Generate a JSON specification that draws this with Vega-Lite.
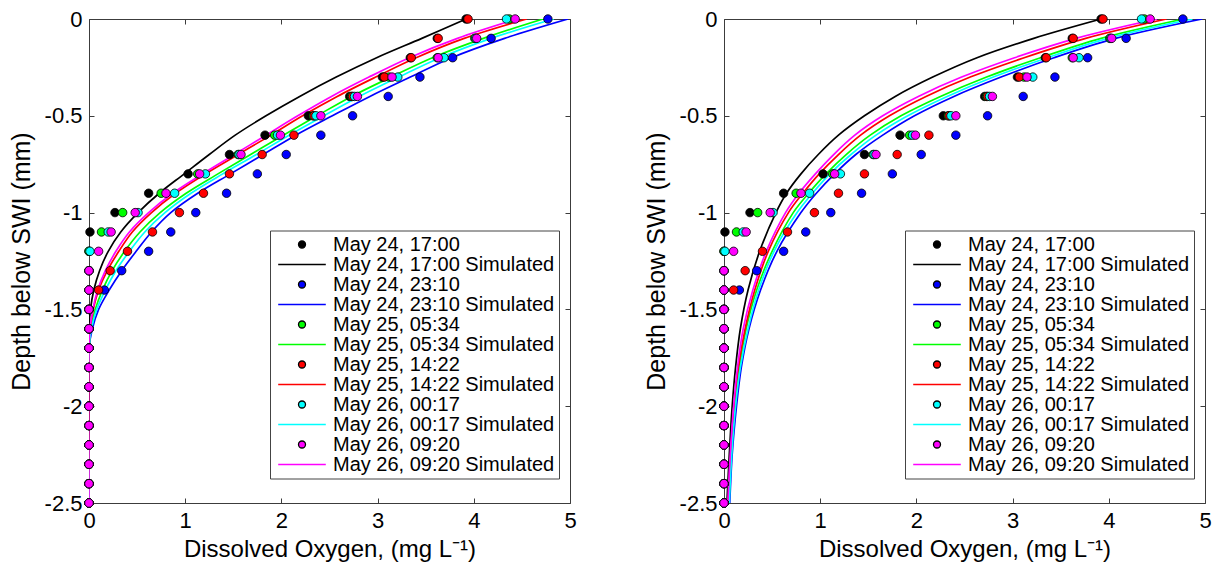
{
"$schema":"https://vega.github.io/schema/vega-lite/v6.json",
"background":"white",
"padding":{"left":9,"top":8,"right":5,"bottom":5},
"autosize":{"type":"pad"},
"datasets":{
"obs":[
{"label":"May 24, 17:00","depth":0,"DO":3.92},{"label":"May 24, 17:00","depth":-0.1,"DO":3.62},{"label":"May 24, 17:00","depth":-0.2,"DO":3.34},{"label":"May 24, 17:00","depth":-0.3,"DO":3.05},{"label":"May 24, 17:00","depth":-0.4,"DO":2.71},{"label":"May 24, 17:00","depth":-0.5,"DO":2.28},{"label":"May 24, 17:00","depth":-0.6,"DO":1.83},{"label":"May 24, 17:00","depth":-0.7,"DO":1.46},{"label":"May 24, 17:00","depth":-0.8,"DO":1.03},{"label":"May 24, 17:00","depth":-0.9,"DO":0.62},{"label":"May 24, 17:00","depth":-1.0,"DO":0.27},{"label":"May 24, 17:00","depth":-1.1,"DO":0.01},{"label":"May 24, 17:00","depth":-1.2,"DO":0},{"label":"May 24, 17:00","depth":-1.3,"DO":0},{"label":"May 24, 17:00","depth":-1.4,"DO":0},{"label":"May 24, 17:00","depth":-1.5,"DO":0},{"label":"May 24, 17:00","depth":-1.6,"DO":0},{"label":"May 24, 17:00","depth":-1.7,"DO":0},{"label":"May 24, 17:00","depth":-1.8,"DO":0},{"label":"May 24, 17:00","depth":-1.9,"DO":0},{"label":"May 24, 17:00","depth":-2.0,"DO":0},{"label":"May 24, 17:00","depth":-2.1,"DO":0},{"label":"May 24, 17:00","depth":-2.2,"DO":0},{"label":"May 24, 17:00","depth":-2.3,"DO":0},{"label":"May 24, 17:00","depth":-2.4,"DO":0},{"label":"May 24, 17:00","depth":-2.5,"DO":0},
{"label":"May 24, 23:10","depth":0,"DO":4.77},{"label":"May 24, 23:10","depth":-0.1,"DO":4.18},{"label":"May 24, 23:10","depth":-0.2,"DO":3.78},{"label":"May 24, 23:10","depth":-0.3,"DO":3.44},{"label":"May 24, 23:10","depth":-0.4,"DO":3.11},{"label":"May 24, 23:10","depth":-0.5,"DO":2.74},{"label":"May 24, 23:10","depth":-0.6,"DO":2.41},{"label":"May 24, 23:10","depth":-0.7,"DO":2.05},{"label":"May 24, 23:10","depth":-0.8,"DO":1.75},{"label":"May 24, 23:10","depth":-0.9,"DO":1.43},{"label":"May 24, 23:10","depth":-1.0,"DO":1.11},{"label":"May 24, 23:10","depth":-1.1,"DO":0.85},{"label":"May 24, 23:10","depth":-1.2,"DO":0.62},{"label":"May 24, 23:10","depth":-1.3,"DO":0.34},{"label":"May 24, 23:10","depth":-1.4,"DO":0.16},{"label":"May 24, 23:10","depth":-1.5,"DO":0},{"label":"May 24, 23:10","depth":-1.6,"DO":0},{"label":"May 24, 23:10","depth":-1.7,"DO":0},{"label":"May 24, 23:10","depth":-1.8,"DO":0},{"label":"May 24, 23:10","depth":-1.9,"DO":0},{"label":"May 24, 23:10","depth":-2.0,"DO":0},{"label":"May 24, 23:10","depth":-2.1,"DO":0},{"label":"May 24, 23:10","depth":-2.2,"DO":0},{"label":"May 24, 23:10","depth":-2.3,"DO":0},{"label":"May 24, 23:10","depth":-2.4,"DO":0},{"label":"May 24, 23:10","depth":-2.5,"DO":0},
{"label":"May 25, 05:34","depth":0,"DO":4.37},{"label":"May 25, 05:34","depth":-0.1,"DO":4.01},{"label":"May 25, 05:34","depth":-0.2,"DO":3.62},{"label":"May 25, 05:34","depth":-0.3,"DO":3.12},{"label":"May 25, 05:34","depth":-0.4,"DO":2.73},{"label":"May 25, 05:34","depth":-0.5,"DO":2.33},{"label":"May 25, 05:34","depth":-0.6,"DO":1.93},{"label":"May 25, 05:34","depth":-0.7,"DO":1.55},{"label":"May 25, 05:34","depth":-0.8,"DO":1.13},{"label":"May 25, 05:34","depth":-0.9,"DO":0.75},{"label":"May 25, 05:34","depth":-1.0,"DO":0.35},{"label":"May 25, 05:34","depth":-1.1,"DO":0.13},{"label":"May 25, 05:34","depth":-1.2,"DO":0},{"label":"May 25, 05:34","depth":-1.3,"DO":0},{"label":"May 25, 05:34","depth":-1.4,"DO":0},{"label":"May 25, 05:34","depth":-1.5,"DO":0},{"label":"May 25, 05:34","depth":-1.6,"DO":0},{"label":"May 25, 05:34","depth":-1.7,"DO":0},{"label":"May 25, 05:34","depth":-1.8,"DO":0},{"label":"May 25, 05:34","depth":-1.9,"DO":0},{"label":"May 25, 05:34","depth":-2.0,"DO":0},{"label":"May 25, 05:34","depth":-2.1,"DO":0},{"label":"May 25, 05:34","depth":-2.2,"DO":0},{"label":"May 25, 05:34","depth":-2.3,"DO":0},{"label":"May 25, 05:34","depth":-2.4,"DO":0},{"label":"May 25, 05:34","depth":-2.5,"DO":0},
{"label":"May 25, 14:22","depth":0,"DO":3.94},{"label":"May 25, 14:22","depth":-0.1,"DO":3.63},{"label":"May 25, 14:22","depth":-0.2,"DO":3.35},{"label":"May 25, 14:22","depth":-0.3,"DO":3.07},{"label":"May 25, 14:22","depth":-0.4,"DO":2.74},{"label":"May 25, 14:22","depth":-0.5,"DO":2.34},{"label":"May 25, 14:22","depth":-0.6,"DO":2.13},{"label":"May 25, 14:22","depth":-0.7,"DO":1.80},{"label":"May 25, 14:22","depth":-0.8,"DO":1.46},{"label":"May 25, 14:22","depth":-0.9,"DO":1.19},{"label":"May 25, 14:22","depth":-1.0,"DO":0.94},{"label":"May 25, 14:22","depth":-1.1,"DO":0.66},{"label":"May 25, 14:22","depth":-1.2,"DO":0.40},{"label":"May 25, 14:22","depth":-1.3,"DO":0.22},{"label":"May 25, 14:22","depth":-1.4,"DO":0.10},{"label":"May 25, 14:22","depth":-1.5,"DO":0},{"label":"May 25, 14:22","depth":-1.6,"DO":0},{"label":"May 25, 14:22","depth":-1.7,"DO":0},{"label":"May 25, 14:22","depth":-1.8,"DO":0},{"label":"May 25, 14:22","depth":-1.9,"DO":0},{"label":"May 25, 14:22","depth":-2.0,"DO":0},{"label":"May 25, 14:22","depth":-2.1,"DO":0},{"label":"May 25, 14:22","depth":-2.2,"DO":0},{"label":"May 25, 14:22","depth":-2.3,"DO":0},{"label":"May 25, 14:22","depth":-2.4,"DO":0},{"label":"May 25, 14:22","depth":-2.5,"DO":0},
{"label":"May 26, 00:17","depth":0,"DO":4.34},{"label":"May 26, 00:17","depth":-0.1,"DO":4.02},{"label":"May 26, 00:17","depth":-0.2,"DO":3.69},{"label":"May 26, 00:17","depth":-0.3,"DO":3.21},{"label":"May 26, 00:17","depth":-0.4,"DO":2.76},{"label":"May 26, 00:17","depth":-0.5,"DO":2.36},{"label":"May 26, 00:17","depth":-0.6,"DO":1.96},{"label":"May 26, 00:17","depth":-0.7,"DO":1.56},{"label":"May 26, 00:17","depth":-0.8,"DO":1.21},{"label":"May 26, 00:17","depth":-0.9,"DO":0.89},{"label":"May 26, 00:17","depth":-1.0,"DO":0.51},{"label":"May 26, 00:17","depth":-1.1,"DO":0.20},{"label":"May 26, 00:17","depth":-1.2,"DO":0.01},{"label":"May 26, 00:17","depth":-1.3,"DO":0},{"label":"May 26, 00:17","depth":-1.4,"DO":0},{"label":"May 26, 00:17","depth":-1.5,"DO":0},{"label":"May 26, 00:17","depth":-1.6,"DO":0},{"label":"May 26, 00:17","depth":-1.7,"DO":0},{"label":"May 26, 00:17","depth":-1.8,"DO":0},{"label":"May 26, 00:17","depth":-1.9,"DO":0},{"label":"May 26, 00:17","depth":-2.0,"DO":0},{"label":"May 26, 00:17","depth":-2.1,"DO":0},{"label":"May 26, 00:17","depth":-2.2,"DO":0},{"label":"May 26, 00:17","depth":-2.3,"DO":0},{"label":"May 26, 00:17","depth":-2.4,"DO":0},{"label":"May 26, 00:17","depth":-2.5,"DO":0},
{"label":"May 26, 09:20","depth":0,"DO":4.43},{"label":"May 26, 09:20","depth":-0.1,"DO":4.03},{"label":"May 26, 09:20","depth":-0.2,"DO":3.63},{"label":"May 26, 09:20","depth":-0.3,"DO":3.15},{"label":"May 26, 09:20","depth":-0.4,"DO":2.79},{"label":"May 26, 09:20","depth":-0.5,"DO":2.41},{"label":"May 26, 09:20","depth":-0.6,"DO":1.99},{"label":"May 26, 09:20","depth":-0.7,"DO":1.58},{"label":"May 26, 09:20","depth":-0.8,"DO":1.15},{"label":"May 26, 09:20","depth":-0.9,"DO":0.80},{"label":"May 26, 09:20","depth":-1.0,"DO":0.48},{"label":"May 26, 09:20","depth":-1.1,"DO":0.23},{"label":"May 26, 09:20","depth":-1.2,"DO":0.10},{"label":"May 26, 09:20","depth":-1.3,"DO":0},{"label":"May 26, 09:20","depth":-1.4,"DO":0},{"label":"May 26, 09:20","depth":-1.5,"DO":0},{"label":"May 26, 09:20","depth":-1.6,"DO":0},{"label":"May 26, 09:20","depth":-1.7,"DO":0},{"label":"May 26, 09:20","depth":-1.8,"DO":0},{"label":"May 26, 09:20","depth":-1.9,"DO":0},{"label":"May 26, 09:20","depth":-2.0,"DO":0},{"label":"May 26, 09:20","depth":-2.1,"DO":0},{"label":"May 26, 09:20","depth":-2.2,"DO":0},{"label":"May 26, 09:20","depth":-2.3,"DO":0},{"label":"May 26, 09:20","depth":-2.4,"DO":0},{"label":"May 26, 09:20","depth":-2.5,"DO":0}
],
"simL":[
{"label":"May 24, 17:00 Simulated","depth":0,"DO":3.92},{"label":"May 24, 17:00 Simulated","depth":-0.1,"DO":3.46},{"label":"May 24, 17:00 Simulated","depth":-0.2,"DO":2.99},{"label":"May 24, 17:00 Simulated","depth":-0.3,"DO":2.57},{"label":"May 24, 17:00 Simulated","depth":-0.4,"DO":2.19},{"label":"May 24, 17:00 Simulated","depth":-0.5,"DO":1.84},{"label":"May 24, 17:00 Simulated","depth":-0.6,"DO":1.52},{"label":"May 24, 17:00 Simulated","depth":-0.7,"DO":1.25},{"label":"May 24, 17:00 Simulated","depth":-0.8,"DO":0.99},{"label":"May 24, 17:00 Simulated","depth":-0.9,"DO":0.73},{"label":"May 24, 17:00 Simulated","depth":-1.0,"DO":0.51},{"label":"May 24, 17:00 Simulated","depth":-1.1,"DO":0.33},{"label":"May 24, 17:00 Simulated","depth":-1.2,"DO":0.20},{"label":"May 24, 17:00 Simulated","depth":-1.3,"DO":0.11},{"label":"May 24, 17:00 Simulated","depth":-1.4,"DO":0.05},{"label":"May 24, 17:00 Simulated","depth":-1.5,"DO":0.015},{"label":"May 24, 17:00 Simulated","depth":-1.6,"DO":0},{"label":"May 24, 17:00 Simulated","depth":-1.7,"DO":0},{"label":"May 24, 17:00 Simulated","depth":-2.5,"DO":0},
{"label":"May 24, 23:10 Simulated","depth":0,"DO":4.98},{"label":"May 24, 23:10 Simulated","depth":-0.1,"DO":4.32},{"label":"May 24, 23:10 Simulated","depth":-0.2,"DO":3.77},{"label":"May 24, 23:10 Simulated","depth":-0.3,"DO":3.34},{"label":"May 24, 23:10 Simulated","depth":-0.4,"DO":2.92},{"label":"May 24, 23:10 Simulated","depth":-0.5,"DO":2.53},{"label":"May 24, 23:10 Simulated","depth":-0.6,"DO":2.15},{"label":"May 24, 23:10 Simulated","depth":-0.7,"DO":1.81},{"label":"May 24, 23:10 Simulated","depth":-0.8,"DO":1.47},{"label":"May 24, 23:10 Simulated","depth":-0.9,"DO":1.13},{"label":"May 24, 23:10 Simulated","depth":-1.0,"DO":0.85},{"label":"May 24, 23:10 Simulated","depth":-1.1,"DO":0.65},{"label":"May 24, 23:10 Simulated","depth":-1.2,"DO":0.49},{"label":"May 24, 23:10 Simulated","depth":-1.3,"DO":0.34},{"label":"May 24, 23:10 Simulated","depth":-1.4,"DO":0.21},{"label":"May 24, 23:10 Simulated","depth":-1.5,"DO":0.10},{"label":"May 24, 23:10 Simulated","depth":-1.6,"DO":0.035},{"label":"May 24, 23:10 Simulated","depth":-1.7,"DO":0},{"label":"May 24, 23:10 Simulated","depth":-2.5,"DO":0},
{"label":"May 25, 05:34 Simulated","depth":0,"DO":4.72},{"label":"May 25, 05:34 Simulated","depth":-0.1,"DO":4.10},{"label":"May 25, 05:34 Simulated","depth":-0.2,"DO":3.57},{"label":"May 25, 05:34 Simulated","depth":-0.3,"DO":3.14},{"label":"May 25, 05:34 Simulated","depth":-0.4,"DO":2.73},{"label":"May 25, 05:34 Simulated","depth":-0.5,"DO":2.37},{"label":"May 25, 05:34 Simulated","depth":-0.6,"DO":2.02},{"label":"May 25, 05:34 Simulated","depth":-0.7,"DO":1.68},{"label":"May 25, 05:34 Simulated","depth":-0.8,"DO":1.34},{"label":"May 25, 05:34 Simulated","depth":-0.9,"DO":1.01},{"label":"May 25, 05:34 Simulated","depth":-1.0,"DO":0.74},{"label":"May 25, 05:34 Simulated","depth":-1.1,"DO":0.53},{"label":"May 25, 05:34 Simulated","depth":-1.2,"DO":0.37},{"label":"May 25, 05:34 Simulated","depth":-1.3,"DO":0.24},{"label":"May 25, 05:34 Simulated","depth":-1.4,"DO":0.14},{"label":"May 25, 05:34 Simulated","depth":-1.5,"DO":0.065},{"label":"May 25, 05:34 Simulated","depth":-1.6,"DO":0.02},{"label":"May 25, 05:34 Simulated","depth":-1.7,"DO":0},{"label":"May 25, 05:34 Simulated","depth":-2.5,"DO":0},
{"label":"May 25, 14:22 Simulated","depth":0,"DO":4.55},{"label":"May 25, 14:22 Simulated","depth":-0.1,"DO":3.90},{"label":"May 25, 14:22 Simulated","depth":-0.2,"DO":3.40},{"label":"May 25, 14:22 Simulated","depth":-0.3,"DO":2.98},{"label":"May 25, 14:22 Simulated","depth":-0.4,"DO":2.58},{"label":"May 25, 14:22 Simulated","depth":-0.5,"DO":2.22},{"label":"May 25, 14:22 Simulated","depth":-0.6,"DO":1.89},{"label":"May 25, 14:22 Simulated","depth":-0.7,"DO":1.55},{"label":"May 25, 14:22 Simulated","depth":-0.8,"DO":1.21},{"label":"May 25, 14:22 Simulated","depth":-0.9,"DO":0.90},{"label":"May 25, 14:22 Simulated","depth":-1.0,"DO":0.65},{"label":"May 25, 14:22 Simulated","depth":-1.1,"DO":0.45},{"label":"May 25, 14:22 Simulated","depth":-1.2,"DO":0.31},{"label":"May 25, 14:22 Simulated","depth":-1.3,"DO":0.19},{"label":"May 25, 14:22 Simulated","depth":-1.4,"DO":0.10},{"label":"May 25, 14:22 Simulated","depth":-1.5,"DO":0.045},{"label":"May 25, 14:22 Simulated","depth":-1.6,"DO":0.012},{"label":"May 25, 14:22 Simulated","depth":-1.7,"DO":0},{"label":"May 25, 14:22 Simulated","depth":-2.5,"DO":0},
{"label":"May 26, 00:17 Simulated","depth":0,"DO":4.83},{"label":"May 26, 00:17 Simulated","depth":-0.1,"DO":4.18},{"label":"May 26, 00:17 Simulated","depth":-0.2,"DO":3.65},{"label":"May 26, 00:17 Simulated","depth":-0.3,"DO":3.22},{"label":"May 26, 00:17 Simulated","depth":-0.4,"DO":2.81},{"label":"May 26, 00:17 Simulated","depth":-0.5,"DO":2.44},{"label":"May 26, 00:17 Simulated","depth":-0.6,"DO":2.08},{"label":"May 26, 00:17 Simulated","depth":-0.7,"DO":1.74},{"label":"May 26, 00:17 Simulated","depth":-0.8,"DO":1.39},{"label":"May 26, 00:17 Simulated","depth":-0.9,"DO":1.06},{"label":"May 26, 00:17 Simulated","depth":-1.0,"DO":0.79},{"label":"May 26, 00:17 Simulated","depth":-1.1,"DO":0.58},{"label":"May 26, 00:17 Simulated","depth":-1.2,"DO":0.42},{"label":"May 26, 00:17 Simulated","depth":-1.3,"DO":0.28},{"label":"May 26, 00:17 Simulated","depth":-1.4,"DO":0.17},{"label":"May 26, 00:17 Simulated","depth":-1.5,"DO":0.08},{"label":"May 26, 00:17 Simulated","depth":-1.6,"DO":0.025},{"label":"May 26, 00:17 Simulated","depth":-1.7,"DO":0},{"label":"May 26, 00:17 Simulated","depth":-2.5,"DO":0},
{"label":"May 26, 09:20 Simulated","depth":0,"DO":4.45},{"label":"May 26, 09:20 Simulated","depth":-0.1,"DO":3.83},{"label":"May 26, 09:20 Simulated","depth":-0.2,"DO":3.33},{"label":"May 26, 09:20 Simulated","depth":-0.3,"DO":2.91},{"label":"May 26, 09:20 Simulated","depth":-0.4,"DO":2.52},{"label":"May 26, 09:20 Simulated","depth":-0.5,"DO":2.17},{"label":"May 26, 09:20 Simulated","depth":-0.6,"DO":1.84},{"label":"May 26, 09:20 Simulated","depth":-0.7,"DO":1.51},{"label":"May 26, 09:20 Simulated","depth":-0.8,"DO":1.18},{"label":"May 26, 09:20 Simulated","depth":-0.9,"DO":0.87},{"label":"May 26, 09:20 Simulated","depth":-1.0,"DO":0.62},{"label":"May 26, 09:20 Simulated","depth":-1.1,"DO":0.42},{"label":"May 26, 09:20 Simulated","depth":-1.2,"DO":0.28},{"label":"May 26, 09:20 Simulated","depth":-1.3,"DO":0.17},{"label":"May 26, 09:20 Simulated","depth":-1.4,"DO":0.09},{"label":"May 26, 09:20 Simulated","depth":-1.5,"DO":0.04},{"label":"May 26, 09:20 Simulated","depth":-1.6,"DO":0.01},{"label":"May 26, 09:20 Simulated","depth":-1.7,"DO":0},{"label":"May 26, 09:20 Simulated","depth":-2.5,"DO":0}
],
"simR":[
{"label":"May 24, 17:00 Simulated","depth":0,"DO":3.92},{"label":"May 24, 17:00 Simulated","depth":-0.1,"DO":3.22},{"label":"May 24, 17:00 Simulated","depth":-0.2,"DO":2.63},{"label":"May 24, 17:00 Simulated","depth":-0.3,"DO":2.17},{"label":"May 24, 17:00 Simulated","depth":-0.4,"DO":1.78},{"label":"May 24, 17:00 Simulated","depth":-0.5,"DO":1.46},{"label":"May 24, 17:00 Simulated","depth":-0.6,"DO":1.19},{"label":"May 24, 17:00 Simulated","depth":-0.7,"DO":0.98},{"label":"May 24, 17:00 Simulated","depth":-0.8,"DO":0.80},{"label":"May 24, 17:00 Simulated","depth":-0.9,"DO":0.65},{"label":"May 24, 17:00 Simulated","depth":-1.0,"DO":0.54},{"label":"May 24, 17:00 Simulated","depth":-1.2,"DO":0.37},{"label":"May 24, 17:00 Simulated","depth":-1.4,"DO":0.25},{"label":"May 24, 17:00 Simulated","depth":-1.6,"DO":0.17},{"label":"May 24, 17:00 Simulated","depth":-1.8,"DO":0.12},{"label":"May 24, 17:00 Simulated","depth":-2.0,"DO":0.085},{"label":"May 24, 17:00 Simulated","depth":-2.25,"DO":0.055},{"label":"May 24, 17:00 Simulated","depth":-2.5,"DO":0.03},
{"label":"May 24, 23:10 Simulated","depth":0,"DO":4.97},{"label":"May 24, 23:10 Simulated","depth":-0.1,"DO":4.07},{"label":"May 24, 23:10 Simulated","depth":-0.2,"DO":3.43},{"label":"May 24, 23:10 Simulated","depth":-0.3,"DO":2.88},{"label":"May 24, 23:10 Simulated","depth":-0.4,"DO":2.39},{"label":"May 24, 23:10 Simulated","depth":-0.5,"DO":1.98},{"label":"May 24, 23:10 Simulated","depth":-0.6,"DO":1.65},{"label":"May 24, 23:10 Simulated","depth":-0.7,"DO":1.37},{"label":"May 24, 23:10 Simulated","depth":-0.8,"DO":1.15},{"label":"May 24, 23:10 Simulated","depth":-0.9,"DO":0.96},{"label":"May 24, 23:10 Simulated","depth":-1.0,"DO":0.80},{"label":"May 24, 23:10 Simulated","depth":-1.2,"DO":0.55},{"label":"May 24, 23:10 Simulated","depth":-1.4,"DO":0.38},{"label":"May 24, 23:10 Simulated","depth":-1.6,"DO":0.26},{"label":"May 24, 23:10 Simulated","depth":-1.8,"DO":0.18},{"label":"May 24, 23:10 Simulated","depth":-2.0,"DO":0.13},{"label":"May 24, 23:10 Simulated","depth":-2.25,"DO":0.085},{"label":"May 24, 23:10 Simulated","depth":-2.5,"DO":0.06},
{"label":"May 25, 05:34 Simulated","depth":0,"DO":4.78},{"label":"May 25, 05:34 Simulated","depth":-0.1,"DO":3.92},{"label":"May 25, 05:34 Simulated","depth":-0.2,"DO":3.29},{"label":"May 25, 05:34 Simulated","depth":-0.3,"DO":2.73},{"label":"May 25, 05:34 Simulated","depth":-0.4,"DO":2.25},{"label":"May 25, 05:34 Simulated","depth":-0.5,"DO":1.84},{"label":"May 25, 05:34 Simulated","depth":-0.6,"DO":1.52},{"label":"May 25, 05:34 Simulated","depth":-0.7,"DO":1.27},{"label":"May 25, 05:34 Simulated","depth":-0.8,"DO":1.06},{"label":"May 25, 05:34 Simulated","depth":-0.9,"DO":0.88},{"label":"May 25, 05:34 Simulated","depth":-1.0,"DO":0.72},{"label":"May 25, 05:34 Simulated","depth":-1.2,"DO":0.50},{"label":"May 25, 05:34 Simulated","depth":-1.4,"DO":0.34},{"label":"May 25, 05:34 Simulated","depth":-1.6,"DO":0.23},{"label":"May 25, 05:34 Simulated","depth":-1.8,"DO":0.16},{"label":"May 25, 05:34 Simulated","depth":-2.0,"DO":0.11},{"label":"May 25, 05:34 Simulated","depth":-2.25,"DO":0.075},{"label":"May 25, 05:34 Simulated","depth":-2.5,"DO":0.05},
{"label":"May 25, 14:22 Simulated","depth":0,"DO":4.60},{"label":"May 25, 14:22 Simulated","depth":-0.1,"DO":3.76},{"label":"May 25, 14:22 Simulated","depth":-0.2,"DO":3.12},{"label":"May 25, 14:22 Simulated","depth":-0.3,"DO":2.56},{"label":"May 25, 14:22 Simulated","depth":-0.4,"DO":2.10},{"label":"May 25, 14:22 Simulated","depth":-0.5,"DO":1.72},{"label":"May 25, 14:22 Simulated","depth":-0.6,"DO":1.42},{"label":"May 25, 14:22 Simulated","depth":-0.7,"DO":1.19},{"label":"May 25, 14:22 Simulated","depth":-0.8,"DO":0.99},{"label":"May 25, 14:22 Simulated","depth":-0.9,"DO":0.82},{"label":"May 25, 14:22 Simulated","depth":-1.0,"DO":0.67},{"label":"May 25, 14:22 Simulated","depth":-1.2,"DO":0.46},{"label":"May 25, 14:22 Simulated","depth":-1.4,"DO":0.32},{"label":"May 25, 14:22 Simulated","depth":-1.6,"DO":0.22},{"label":"May 25, 14:22 Simulated","depth":-1.8,"DO":0.15},{"label":"May 25, 14:22 Simulated","depth":-2.0,"DO":0.105},{"label":"May 25, 14:22 Simulated","depth":-2.25,"DO":0.07},{"label":"May 25, 14:22 Simulated","depth":-2.5,"DO":0.045},
{"label":"May 26, 00:17 Simulated","depth":0,"DO":4.87},{"label":"May 26, 00:17 Simulated","depth":-0.1,"DO":3.99},{"label":"May 26, 00:17 Simulated","depth":-0.2,"DO":3.36},{"label":"May 26, 00:17 Simulated","depth":-0.3,"DO":2.80},{"label":"May 26, 00:17 Simulated","depth":-0.4,"DO":2.32},{"label":"May 26, 00:17 Simulated","depth":-0.5,"DO":1.91},{"label":"May 26, 00:17 Simulated","depth":-0.6,"DO":1.58},{"label":"May 26, 00:17 Simulated","depth":-0.7,"DO":1.32},{"label":"May 26, 00:17 Simulated","depth":-0.8,"DO":1.10},{"label":"May 26, 00:17 Simulated","depth":-0.9,"DO":0.92},{"label":"May 26, 00:17 Simulated","depth":-1.0,"DO":0.76},{"label":"May 26, 00:17 Simulated","depth":-1.2,"DO":0.52},{"label":"May 26, 00:17 Simulated","depth":-1.4,"DO":0.36},{"label":"May 26, 00:17 Simulated","depth":-1.6,"DO":0.25},{"label":"May 26, 00:17 Simulated","depth":-1.8,"DO":0.17},{"label":"May 26, 00:17 Simulated","depth":-2.0,"DO":0.12},{"label":"May 26, 00:17 Simulated","depth":-2.25,"DO":0.08},{"label":"May 26, 00:17 Simulated","depth":-2.5,"DO":0.055},
{"label":"May 26, 09:20 Simulated","depth":0,"DO":4.50},{"label":"May 26, 09:20 Simulated","depth":-0.1,"DO":3.66},{"label":"May 26, 09:20 Simulated","depth":-0.2,"DO":3.02},{"label":"May 26, 09:20 Simulated","depth":-0.3,"DO":2.47},{"label":"May 26, 09:20 Simulated","depth":-0.4,"DO":2.02},{"label":"May 26, 09:20 Simulated","depth":-0.5,"DO":1.65},{"label":"May 26, 09:20 Simulated","depth":-0.6,"DO":1.36},{"label":"May 26, 09:20 Simulated","depth":-0.7,"DO":1.14},{"label":"May 26, 09:20 Simulated","depth":-0.8,"DO":0.95},{"label":"May 26, 09:20 Simulated","depth":-0.9,"DO":0.78},{"label":"May 26, 09:20 Simulated","depth":-1.0,"DO":0.64},{"label":"May 26, 09:20 Simulated","depth":-1.2,"DO":0.44},{"label":"May 26, 09:20 Simulated","depth":-1.4,"DO":0.30},{"label":"May 26, 09:20 Simulated","depth":-1.6,"DO":0.20},{"label":"May 26, 09:20 Simulated","depth":-1.8,"DO":0.14},{"label":"May 26, 09:20 Simulated","depth":-2.0,"DO":0.10},{"label":"May 26, 09:20 Simulated","depth":-2.25,"DO":0.065},{"label":"May 26, 09:20 Simulated","depth":-2.5,"DO":0.04}
]
},
"spacing":154,
"bounds":"flush",
"resolve":{"legend":{"fill":"independent","stroke":"independent","shape":"independent"}},
"hconcat":[
{"width":481,"height":484,
"resolve":{"axis":{"x":"independent","y":"independent"}},
"layer":[
{"data":{"name":"simL"},"mark":{"type":"line","interpolate":"catmull-rom","strokeWidth":1.7,"clip":true},
"encoding":{
"x":{"field":"DO","type":"quantitative","scale":{"domain":[0,5],"nice":false,"zero":false},"axis":{"orient":"bottom","values":[0,1,2,3,4,5],"title":"Dissolved Oxygen, (mg L⁻¹)","labelExpr":"'' + datum.value","tickSize":-5,"labelPadding":12,"titlePadding":6,"labelFlush":false,"labelOverlap":false,"labelBound":false}},
"y":{"field":"depth","type":"quantitative","scale":{"domain":[-2.5,0],"nice":false,"zero":false},"axis":{"orient":"left","values":[0,-0.5,-1,-1.5,-2,-2.5],"title":"Depth below SWI (mm)","titleFontSize":25,"labelExpr":"'' + datum.value","tickSize":-5,"labelPadding":12,"titlePadding":10,"labelFlush":false,"labelOverlap":false,"labelBound":false}},
"stroke":{"field":"label","type":"nominal","scale":{"domain":["May 24, 17:00","May 24, 17:00 Simulated","May 24, 23:10","May 24, 23:10 Simulated","May 25, 05:34","May 25, 05:34 Simulated","May 25, 14:22","May 25, 14:22 Simulated","May 26, 00:17","May 26, 00:17 Simulated","May 26, 09:20","May 26, 09:20 Simulated"],"range":["#000000","#000000","#000000","#0000ff","#000000","#00ff00","#000000","#ff0000","#000000","#00ffff","#000000","#ff00ff"]},"legend":{"title":null}},
"order":{"field":"depth","type":"quantitative","sort":"descending"}
}},
{"data":{"name":"obs"},"mark":{"type":"point","filled":true,"size":72,"strokeWidth":0.8,"opacity":1},
"encoding":{
"x":{"field":"DO","type":"quantitative","axis":null},
"y":{"field":"depth","type":"quantitative","axis":null},
"fill":{"field":"label","type":"nominal","scale":{"domain":["May 24, 17:00","May 24, 17:00 Simulated","May 24, 23:10","May 24, 23:10 Simulated","May 25, 05:34","May 25, 05:34 Simulated","May 25, 14:22","May 25, 14:22 Simulated","May 26, 00:17","May 26, 00:17 Simulated","May 26, 09:20","May 26, 09:20 Simulated"],"range":["#000000","#000000","#0000ff","#0000ff","#00ff00","#00ff00","#ff0000","#ff0000","#00ffff","#00ffff","#ff00ff","#ff00ff"]},"legend":{"title":null}},
"stroke":{"field":"label","type":"nominal","legend":{"title":null}},
"shape":{"field":"label","type":"nominal","scale":{"domain":["May 24, 17:00","May 24, 17:00 Simulated","May 24, 23:10","May 24, 23:10 Simulated","May 25, 05:34","May 25, 05:34 Simulated","May 25, 14:22","May 25, 14:22 Simulated","May 26, 00:17","May 26, 00:17 Simulated","May 26, 09:20","May 26, 09:20 Simulated"],"range":["circle","M-6.8,0H6.8","circle","M-6.8,0H6.8","circle","M-6.8,0H6.8","circle","M-6.8,0H6.8","circle","M-6.8,0H6.8","circle","M-6.8,0H6.8"]},"legend":{"title":null}}
}},
{"data":{"name":"obs"},"mark":{"type":"point","opacity":0},
"encoding":{
"x":{"field":"DO","type":"quantitative","axis":{"orient":"top","values":[0,1,2,3,4,5],"labels":false,"tickSize":-5,"title":null}},
"y":{"field":"depth","type":"quantitative","axis":{"orient":"right","values":[0,-0.5,-1,-1.5,-2,-2.5],"labels":false,"tickSize":-5,"title":null}}
}}
]},
{"width":481,"height":484,
"resolve":{"axis":{"x":"independent","y":"independent"}},
"layer":[
{"data":{"name":"simR"},"mark":{"type":"line","interpolate":"catmull-rom","strokeWidth":1.7,"clip":true},
"encoding":{
"x":{"field":"DO","type":"quantitative","scale":{"domain":[0,5],"nice":false,"zero":false},"axis":{"orient":"bottom","values":[0,1,2,3,4,5],"title":"Dissolved Oxygen, (mg L⁻¹)","labelExpr":"'' + datum.value","tickSize":-5,"labelPadding":12,"titlePadding":6,"labelFlush":false,"labelOverlap":false,"labelBound":false}},
"y":{"field":"depth","type":"quantitative","scale":{"domain":[-2.5,0],"nice":false,"zero":false},"axis":{"orient":"left","values":[0,-0.5,-1,-1.5,-2,-2.5],"title":"Depth below SWI (mm)","titleFontSize":25,"labelExpr":"'' + datum.value","tickSize":-5,"labelPadding":12,"titlePadding":10,"labelFlush":false,"labelOverlap":false,"labelBound":false}},
"stroke":{"field":"label","type":"nominal","scale":{"domain":["May 24, 17:00","May 24, 17:00 Simulated","May 24, 23:10","May 24, 23:10 Simulated","May 25, 05:34","May 25, 05:34 Simulated","May 25, 14:22","May 25, 14:22 Simulated","May 26, 00:17","May 26, 00:17 Simulated","May 26, 09:20","May 26, 09:20 Simulated"],"range":["#000000","#000000","#000000","#0000ff","#000000","#00ff00","#000000","#ff0000","#000000","#00ffff","#000000","#ff00ff"]},"legend":{"title":null}},
"order":{"field":"depth","type":"quantitative","sort":"descending"}
}},
{"data":{"name":"obs"},"mark":{"type":"point","filled":true,"size":72,"strokeWidth":0.8,"opacity":1},
"encoding":{
"x":{"field":"DO","type":"quantitative","axis":null},
"y":{"field":"depth","type":"quantitative","axis":null},
"fill":{"field":"label","type":"nominal","scale":{"domain":["May 24, 17:00","May 24, 17:00 Simulated","May 24, 23:10","May 24, 23:10 Simulated","May 25, 05:34","May 25, 05:34 Simulated","May 25, 14:22","May 25, 14:22 Simulated","May 26, 00:17","May 26, 00:17 Simulated","May 26, 09:20","May 26, 09:20 Simulated"],"range":["#000000","#000000","#0000ff","#0000ff","#00ff00","#00ff00","#ff0000","#ff0000","#00ffff","#00ffff","#ff00ff","#ff00ff"]},"legend":{"title":null}},
"stroke":{"field":"label","type":"nominal","legend":{"title":null}},
"shape":{"field":"label","type":"nominal","scale":{"domain":["May 24, 17:00","May 24, 17:00 Simulated","May 24, 23:10","May 24, 23:10 Simulated","May 25, 05:34","May 25, 05:34 Simulated","May 25, 14:22","May 25, 14:22 Simulated","May 26, 00:17","May 26, 00:17 Simulated","May 26, 09:20","May 26, 09:20 Simulated"],"range":["circle","M-6.8,0H6.8","circle","M-6.8,0H6.8","circle","M-6.8,0H6.8","circle","M-6.8,0H6.8","circle","M-6.8,0H6.8","circle","M-6.8,0H6.8"]},"legend":{"title":null}}
}},
{"data":{"name":"obs"},"mark":{"type":"point","opacity":0},
"encoding":{
"x":{"field":"DO","type":"quantitative","axis":{"orient":"top","values":[0,1,2,3,4,5],"labels":false,"tickSize":-5,"title":null}},
"y":{"field":"depth","type":"quantitative","axis":{"orient":"right","values":[0,-0.5,-1,-1.5,-2,-2.5],"labels":false,"tickSize":-5,"title":null}}
}}
]}
],
"config":{
"font":"Liberation Sans",
"view":{"stroke":null},
"axis":{"labelFont":"Liberation Sans","titleFont":"Liberation Sans","labelFontSize":22,"titleFontSize":24,"titleFontWeight":"normal","labelColor":"black","titleColor":"black","domainColor":"#3c3c3c","tickColor":"#3c3c3c","domainWidth":1,"tickWidth":1,"grid":false},
"legend":{"orient":"none","legendX":181,"legendY":211.5,"labelFont":"Liberation Sans","labelFontSize":20,"labelColor":"black","labelLimit":0,"strokeColor":"#444444","fillColor":"white","padding":4,"symbolSize":49,"symbolStrokeWidth":1.3,"symbolOffset":18,"labelOffset":21,"rowPadding":0}
}
}
